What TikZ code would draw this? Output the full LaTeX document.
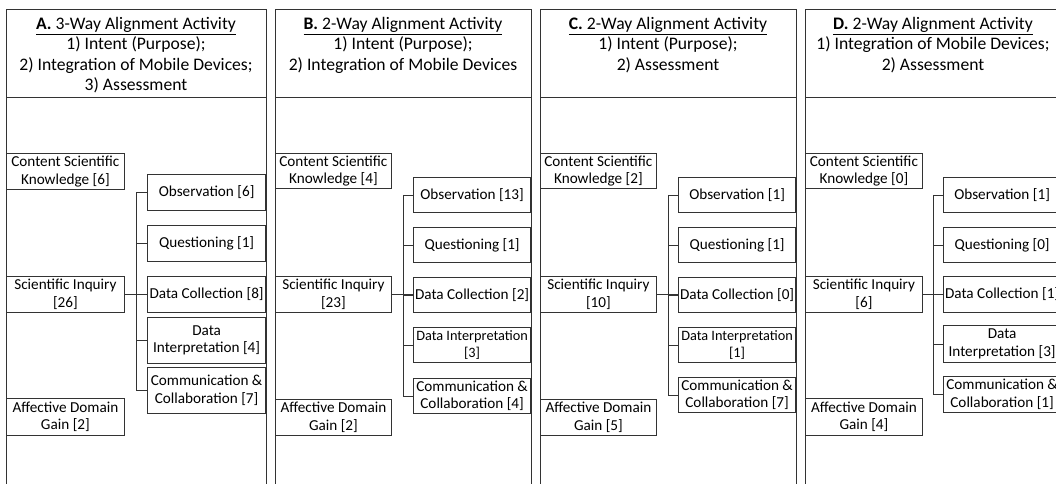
\documentclass[tikz,border=0pt]{standalone}
\usepackage{fontspec}
\setmainfont{Carlito}
\usetikzlibrary{positioning}

\tikzset{
  frame/.style={draw=black!80, line width=0.8pt},
  link/.style={draw=black!80, line width=0.8pt},
  title/.style={align=center, inner sep=0pt, anchor=north, font=\fontsize{17.6}{20.5}\selectfont},
  catbox/.style={draw=black!80, line width=0.8pt, align=center, inner sep=1pt,
    minimum width=117pt, minimum height=36pt, font=\fontsize{15.2}{17.7}\selectfont},
  subbox/.style={catbox, minimum height=35pt},
  narrow/.style={inner xsep=0pt, font=\fontsize{14.3}{17.7}\selectfont}
}

\begin{document}
\begin{tikzpicture}[x=1pt,y=-1pt]
\useasboundingbox (0,0) rectangle (1056,483);
\clip (0,0) rectangle (1056,483);

% panel A
\draw[frame] (6,9) rectangle (266,520);
\draw[frame] (6,97) -- (266,97);
\node[title] (a-head) at (136,17) {\underline{\textbf{A.} 3-Way Alignment Activity}\\1) Intent (Purpose);\\2) Integration of Mobile Devices;\\3) Assessment};
\node[catbox, anchor=north west, minimum width=118pt] (a-csk) at (6,153) {Content Scientific\\Knowledge [6]};
\node[catbox, anchor=north west, minimum width=118pt] (a-si) at (6,276) {Scientific Inquiry\\{}[26]};
\node[catbox, anchor=north west, minimum width=118pt, minimum height=37pt] (a-adg) at (6,398) {Affective Domain\\Gain [2]};
\node[subbox, anchor=north east, minimum width=118pt, minimum height=36pt] (a-obs) at (266,174) {Observation [6]};
\node[subbox, anchor=north east, minimum width=118pt, minimum height=36pt] (a-que) at (266,225) {Questioning [1]};
\node[subbox, anchor=north east, minimum width=118pt, minimum height=36pt] (a-dc) at (266,276) {Data Collection [8]};
\node[subbox, anchor=north east, minimum width=118pt, minimum height=46pt] (a-di) at (266,317) {Data\\Interpretation [4]};
\node[subbox, anchor=north east, minimum width=118pt, minimum height=46pt] (a-cc) at (266,367) {Communication \&\\Collaboration [7]};
\coordinate (a-t) at (136,0);
\draw[link] (a-si) -- (a-dc);
\draw[link] (a-obs.west -| a-t) -- (a-cc.west -| a-t);
\foreach \n in {obs,que,di,cc} \draw[link] (a-\n.west) -- (a-\n.west -| a-t);

% panel B
\draw[frame] (275,9) rectangle (531,520);
\draw[frame] (275,97) -- (531,97);
\node[title] (b-head) at (403,17) {\underline{\textbf{B.} 2-Way Alignment Activity}\\1) Intent (Purpose);\\2) Integration of Mobile Devices};
\node[catbox, anchor=north west, minimum width=116pt, minimum height=35pt] (b-csk) at (275,153) {Content Scientific\\Knowledge [4]};
\node[catbox, anchor=north west, minimum width=116pt] (b-si) at (275,276) {Scientific Inquiry\\{}[23]};
\node[catbox, anchor=north west, minimum width=116pt] (b-adg) at (275,399) {Affective Domain\\Gain [2]};
\node[subbox, anchor=north east] (b-obs) at (531,177) {Observation [13]};
\node[subbox, anchor=north east] (b-que) at (531,227) {Questioning [1]};
\node[subbox, anchor=north east] (b-dc) at (531,277) {Data Collection [2]};
\node[subbox, narrow, anchor=north east] (b-di) at (531,327) {Data Interpretation\\{}[3]};
\node[subbox, anchor=north east] (b-cc) at (531,378) {Communication \&\\Collaboration [4]};
\coordinate (b-t) at (403,0);
\draw[link] (b-si.east) -- (b-si.east -| b-dc.west);
\draw[link] (b-obs.west -| b-t) -- (b-cc.west -| b-t);
\foreach \n in {obs,que,dc,di,cc} \draw[link] (b-\n.west) -- (b-\n.west -| b-t);

% panel C
\draw[frame] (540,9) rectangle (796,520);
\draw[frame] (540,97) -- (796,97);
\node[title] (c-head) at (668,17) {\underline{\textbf{C.} 2-Way Alignment Activity}\\1) Intent (Purpose);\\2) Assessment};
\node[catbox, anchor=north west, minimum width=116pt, minimum height=35pt] (c-csk) at (540,153) {Content Scientific\\Knowledge [2]};
\node[catbox, anchor=north west, minimum width=116pt] (c-si) at (540,276) {Scientific Inquiry\\{}[10]};
\node[catbox, anchor=north west, minimum width=116pt] (c-adg) at (540,399) {Affective Domain\\Gain [5]};
\node[subbox, anchor=north east] (c-obs) at (796,177) {Observation [1]};
\node[subbox, anchor=north east] (c-que) at (796,227) {Questioning [1]};
\node[subbox, anchor=north east] (c-dc) at (796,277) {Data Collection [0]};
\node[subbox, narrow, anchor=north east] (c-di) at (796,327) {Data Interpretation\\{}[1]};
\node[subbox, anchor=north east] (c-cc) at (796,377) {Communication \&\\Collaboration [7]};
\coordinate (c-t) at (668,0);
\draw[link] (c-si.east) -- (c-si.east -| c-dc.west);
\draw[link] (c-obs.west -| c-t) -- (c-cc.west -| c-t);
\foreach \n in {obs,que,dc,di,cc} \draw[link] (c-\n.west) -- (c-\n.west -| c-t);

% panel D
\draw[frame] (805,9) rectangle (1061,520);
\draw[frame] (805,97) -- (1061,97);
\node[title] (d-head) at (933,17) {\underline{\textbf{D.} 2-Way Alignment Activity}\\1) Integration of Mobile Devices;\\2) Assessment};
\node[catbox, anchor=north west, minimum height=35pt] (d-csk) at (805,153) {Content Scientific\\Knowledge [0]};
\node[catbox, anchor=north west] (d-si) at (805,276) {Scientific Inquiry\\{}[6]};
\node[catbox, anchor=north west, minimum height=37pt] (d-adg) at (805,398) {Affective Domain\\Gain [4]};
\node[subbox, anchor=north east] (d-obs) at (1061,177) {Observation [1]};
\node[subbox, anchor=north east] (d-que) at (1061,227) {Questioning [0]};
\node[subbox, anchor=north east, minimum height=36pt] (d-dc) at (1061,276) {Data Collection [1]};
\node[subbox, anchor=north east, minimum height=37pt] (d-di) at (1061,325) {Data\\Interpretation [3]};
\node[subbox, anchor=north east, minimum height=36pt] (d-cc) at (1061,376) {Communication \&\\Collaboration [1]};
\coordinate (d-t) at (933,0);
\draw[link] (d-si.east) -- (d-si.east -| d-dc.west);
\draw[link] (d-obs.west -| d-t) -- (d-cc.west -| d-t);
\foreach \n in {obs,que,dc,di,cc} \draw[link] (d-\n.west) -- (d-\n.west -| d-t);
\end{tikzpicture}
\end{document}
